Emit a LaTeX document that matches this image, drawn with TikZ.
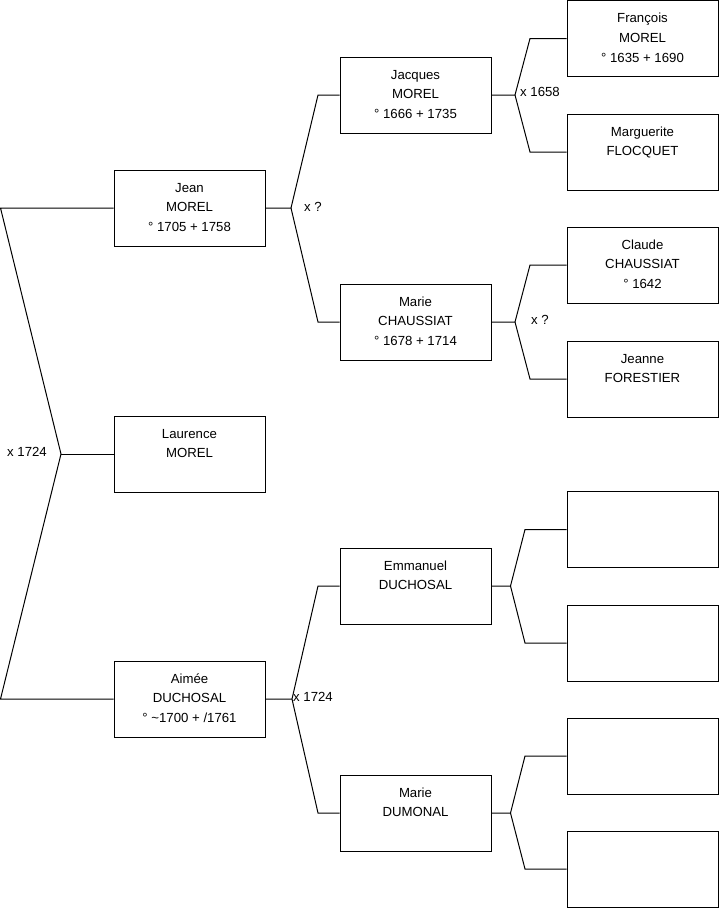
\documentclass[tikz,border=0pt]{standalone}
\usepackage{fontspec}
\setmainfont{Liberation Sans}
\begin{document}
\begin{tikzpicture}[x=1pt,y=-1pt,
  person/.style={draw=black,line width=1pt,minimum width=151pt,minimum height=76pt,inner sep=0pt,align=center,
    font=\fontsize{13.2}{19.8}\selectfont},
  lbl/.style={anchor=west,inner sep=0pt,font=\fontsize{13.2}{19.8}\selectfont},
  conn/.style={line width=1pt,line join=miter}]
\useasboundingbox (0,0) rectangle (719,908);
% generation 1
\node[person] (jean) at (189.5,208) {\strut Jean\\\strut MOREL\\\strut ° 1705 + 1758};
\node[person] (laurence) at (189.5,454) {\strut Laurence\\\strut MOREL\\\strut};
\node[person] (aimee) at (189.5,699) {\strut Aimée\\\strut DUCHOSAL\\\strut ° \textasciitilde1700 + /1761};
% generation 2
\node[person] (jacques) at (415.5,95) {\strut Jacques\\\strut MOREL\\\strut ° 1666 + 1735};
\node[person] (mariec) at (415.5,322) {\strut Marie\\\strut CHAUSSIAT\\\strut ° 1678 + 1714};
\node[person] (emmanuel) at (415.5,586) {\strut Emmanuel\\\strut DUCHOSAL\\\strut};
\node[person] (mMaried) at (415.5,813) {\strut Marie\\\strut DUMONAL\\\strut};
% generation 3
\node[person] (francois) at (642.5,38.5) {\strut François\\\strut MOREL\\\strut ° 1635 + 1690};
\node[person] (marguerite) at (642.5,152) {\strut Marguerite\\\strut FLOCQUET\\\strut};
\node[person] (claude) at (642.5,265) {\strut Claude\\\strut CHAUSSIAT\\\strut ° 1642};
\node[person] (jeanne) at (642.5,379) {\strut Jeanne\\\strut FORESTIER\\\strut};
\node[person] (e1) at (642.5,529.5) {};
\node[person] (e2) at (642.5,643) {};
\node[person] (e3) at (642.5,756) {};
\node[person] (e4) at (642.5,869) {};
% bracket coordinates
\coordinate (a1) at (0.5,208);
\coordinate (av) at (61,454);
\coordinate (a2) at (0.5,699);
\coordinate (bv) at (291,208);
\coordinate (b1) at (318,95);
\coordinate (b2) at (318,322);
\coordinate (cv) at (292,699);
\coordinate (c1) at (318,586);
\coordinate (c2) at (318,813);
\coordinate (dv) at (515,95);
\coordinate (d1) at (530,38.5);
\coordinate (d2) at (530,152);
\coordinate (ev) at (515,322);
\coordinate (e1c) at (530,265);
\coordinate (e2c) at (530,379);
\coordinate (fv) at (510.5,586);
\coordinate (f1) at (525,529.5);
\coordinate (f2) at (525,643);
\coordinate (gv) at (510.5,813);
\coordinate (g1) at (525,756);
\coordinate (g2) at (525,869);
% connectors
\draw[conn] (jean.west) -- (a1) -- (av) -- (a2) -- (aimee.west);
\draw[conn] (av) -- (laurence.west);
\draw[conn] (jean.east) -- (bv) -- (b1) -- (jacques.west);
\draw[conn] (bv) -- (b2) -- (mariec.west);
\draw[conn] (aimee.east) -- (cv) -- (c1) -- (emmanuel.west);
\draw[conn] (cv) -- (c2) -- (mMaried.west);
\draw[conn] (jacques.east) -- (dv) -- (d1) -- (francois.west);
\draw[conn] (dv) -- (d2) -- (marguerite.west);
\draw[conn] (mariec.east) -- (ev) -- (e1c) -- (claude.west);
\draw[conn] (ev) -- (e2c) -- (jeanne.west);
\draw[conn] (emmanuel.east) -- (fv) -- (f1) -- (e1.west);
\draw[conn] (fv) -- (f2) -- (e2.west);
\draw[conn] (mMaried.east) -- (gv) -- (g1) -- (e3.west);
\draw[conn] (gv) -- (g2) -- (e4.west);
% labels
\node[lbl] (la) at (7,452) {x 1724};
\node[lbl] (lb) at (304,207) {x ?};
\node[lbl] (lc) at (293,697) {x 1724};
\node[lbl] (ld) at (520,92) {x 1658};
\node[lbl] (le) at (531,320) {x ?};
\end{tikzpicture}
\end{document}
